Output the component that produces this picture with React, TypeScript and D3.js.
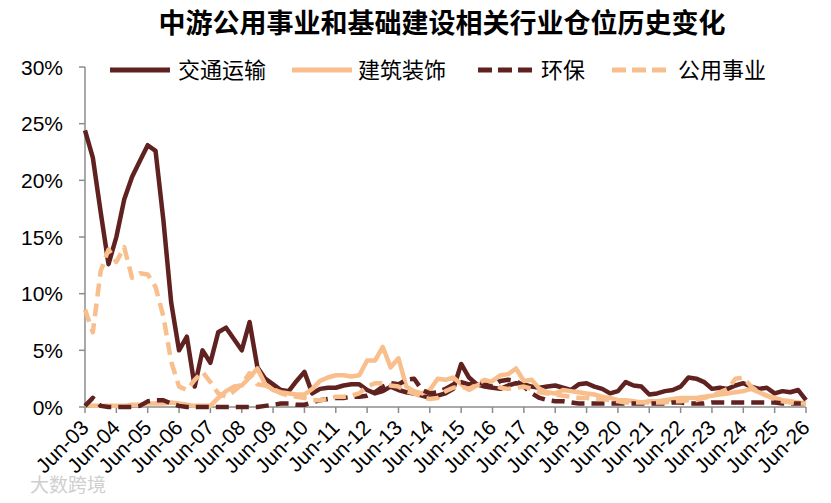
import React from 'react';
import * as d3 from 'd3';

// quarterly positions, Jun-03 .. Jun-26 (93 quarters), values in %
const tickLabels = [
    "Jun-03", "Jun-04", "Jun-05", "Jun-06", "Jun-07", "Jun-08", "Jun-09", "Jun-10",
    "Jun-11", "Jun-12", "Jun-13", "Jun-14", "Jun-15", "Jun-16", "Jun-17", "Jun-18",
    "Jun-19", "Jun-20", "Jun-21", "Jun-22", "Jun-23", "Jun-24", "Jun-25", "Jun-26",
];

const transport = [
    24.4, 22.0, 17.2, 12.6, 15.0, 18.3, 20.3, 21.7, 23.1, 22.6, 16.5, 9.2,
    5.0, 6.2, 1.8, 5.0, 3.9, 6.6, 7.0, 6.0, 5.0, 7.5, 3.5, 2.5,
    2.0, 1.5, 1.4, 2.3, 3.1, 1.2, 1.6, 1.7, 1.7, 1.9, 2.0, 2.0,
    1.5, 1.2, 1.4, 1.8, 1.5, 1.3, 1.2, 1.0, 0.8, 1.0, 1.2, 1.6,
    3.8, 2.6, 2.0, 1.8, 1.7, 1.6, 1.9, 2.1, 2.0, 1.8, 1.7, 1.8,
    1.9, 1.7, 1.5, 2.0, 2.1, 1.8, 1.6, 1.2, 1.4, 2.2, 1.9, 1.8,
    1.1, 1.2, 1.4, 1.5, 1.8, 2.6, 2.5, 2.2, 1.6, 1.7, 1.6, 1.9,
    2.1, 1.8, 1.6, 1.7, 1.2, 1.4, 1.3, 1.5, 0.6,
];

const construction = [
    0.2, 0.1, 0.1, 0.1, 0.1, 0.1, 0.2, 0.2, 0.3, 0.3, 0.3, 0.4,
    0.3, 0.2, 0.1, 0.1, 0.1, 0.8, 1.4, 1.8, 1.9, 2.6, 3.4, 2.0,
    1.5, 1.3, 1.2, 1.1, 1.1, 1.6, 2.3, 2.6, 2.8, 2.8, 2.7, 2.8,
    4.1, 4.1, 5.3, 3.5, 4.3, 1.8, 1.4, 1.2, 1.5, 2.5, 2.4, 2.6,
    2.0, 1.5, 1.9, 2.2, 2.3, 2.8, 2.9, 3.4, 2.3, 2.4, 1.6, 1.3,
    1.2, 1.5, 1.4, 1.3, 1.2, 1.1, 0.9, 0.8, 0.6, 0.6, 0.5, 0.4,
    0.5, 0.5, 0.6, 0.7, 0.8, 0.8, 0.8, 0.9, 1.0, 1.1, 1.2, 1.3,
    1.4, 1.6, 1.3, 1.0, 0.8, 0.6, 0.5, 0.4, 0.3,
];

const environment = [
    0.1, 0.8, 0.1, 0.0, 0.0, 0.0, 0.0, 0.1, 0.5, 0.6, 0.6, 0.3,
    0.1, 0.0, 0.0, 0.0, 0.0, 0.0, 0.0, 0.0, 0.0, 0.0, 0.0, 0.1,
    0.2, 0.3, 0.3, 0.2, 0.2, 0.4, 0.6, 0.7, 0.8, 0.8, 0.9, 0.9,
    1.0, 1.3, 1.8, 2.1, 2.0, 2.4, 2.5, 1.5, 1.2, 1.3, 1.6, 2.0,
    2.2, 2.0, 2.2, 2.0, 1.8, 2.3, 2.4, 2.3, 1.8, 1.2, 0.8, 0.6,
    0.5, 0.5, 0.4, 0.3, 0.3, 0.3, 0.3, 0.3, 0.3, 0.3, 0.3, 0.3,
    0.3, 0.3, 0.3, 0.4, 0.4, 0.3, 0.3, 0.3, 0.4, 0.4, 0.4, 0.4,
    0.4, 0.4, 0.4, 0.4, 0.4, 0.3, 0.3, 0.3, 0.3,
];

const utilities = [
    8.6, 6.6, 12.0, 13.9, 12.8, 14.1, 11.4, 11.8, 11.7, 10.6, 8.0, 4.0,
    1.8, 1.5, 2.4, 3.1, 2.2, 1.2, 0.9, 1.4, 2.0, 3.0, 2.0, 1.9,
    1.6, 1.2, 1.0, 0.9, 0.8, 0.6, 0.6, 0.7, 0.9, 0.9, 1.0, 1.2,
    1.8, 2.1, 2.1, 1.9, 1.8, 1.4, 1.2, 0.9, 0.7, 0.8, 1.4, 1.7,
    1.8, 1.6, 2.0, 2.4, 2.2, 1.7, 1.6, 1.7, 1.8, 1.6, 1.3, 1.2,
    1.1, 1.0, 0.9, 0.8, 0.8, 0.7, 0.7, 0.6, 0.5, 0.4, 0.4, 0.4,
    0.4, 0.4, 0.4, 0.5, 0.5, 0.6, 0.6, 0.8, 1.0, 1.3, 1.6, 2.5,
    2.6, 1.8, 1.3, 1.0, 0.7, 0.5, 0.4, 0.3, 0.3,
];

const yTicks = [0, 5, 10, 15, 20, 25, 30];

const DARK = "#5F2220";
const LIGHT = "#F8BF8D";

const series = [
    { name: "交通运输", values: transport, color: DARK, dash: "none" },
    { name: "建筑装饰", values: construction, color: LIGHT, dash: "none" },
    { name: "环保", values: environment, color: DARK, dash: "13,7" },
    { name: "公用事业", values: utilities, color: LIGHT, dash: "13,7" },
];

const width = 831;
const height = 503;
const margin = { left: 85, right: 25, top: 67, bottom: 96 };
const font = "Arial, 'Liberation Sans', 'Noto Sans CJK SC', sans-serif";
const cjk = "'Noto Sans CJK SC', 'Microsoft YaHei', sans-serif";

const App: React.FC = () => {
    const x = d3.scaleLinear()
        .domain([0, transport.length - 1])
        .range([margin.left, width - margin.right]);
    const y = d3.scaleLinear()
        .domain([0, 30])
        .range([height - margin.bottom, margin.top]);

    const line = d3.line<number>()
        .x((_, i) => x(i))
        .y(d => y(d));

    const legendItems = [
        { lx: 110, tx: 178 },
        { lx: 292, tx: 358 },
        { lx: 478, tx: 541 },
        { lx: 612, tx: 678 },
    ];

    return (
        <div style={{ position: "fixed", left: 0, top: 0 }}>
            <svg width={width} height={height} style={{ display: "block", background: "#fff" }}>
                <text x={442} y={33} textAnchor="middle" fontFamily={cjk} fontWeight="bold"
                    fontSize={27} fill="#000">中游公用事业和基础建设相关行业仓位历史变化</text>

                {/* y axis */}
                <line x1={x(0)} x2={x(0)} y1={y(0)} y2={y(30)} stroke="#8c8c8c" strokeWidth={1.5} />
                {yTicks.map(t => (
                    <g key={t}>
                        <line x1={x(0) - 6} x2={x(0)} y1={y(t)} y2={y(t)} stroke="#8c8c8c" strokeWidth={1.5} />
                        <text x={63} y={y(t)} dy="0.36em" textAnchor="end" fontFamily={font}
                            fontSize={21} fill="#000">{t}%</text>
                    </g>
                ))}

                {/* x axis */}
                <line x1={x(0)} x2={x(transport.length - 1)} y1={y(0)} y2={y(0)} stroke="#8c8c8c" strokeWidth={1.5} />
                {tickLabels.map((lab, k) => {
                    const tx = x(k * 4);
                    return (
                        <g key={lab}>
                            <line x1={tx} x2={tx} y1={y(0)} y2={y(0) + 6} stroke="#8c8c8c" strokeWidth={1.5} />
                            <text transform={`translate(${tx + 5},${y(0) + 22}) rotate(-45)`} textAnchor="end"
                                fontFamily={font} fontSize={21} fill="#000">{lab}</text>
                        </g>
                    );
                })}

                {/* series */}
                {series.map(s => (
                    <path key={s.name} d={line(s.values) || ""} fill="none" stroke={s.color}
                        strokeWidth={4.5} strokeDasharray={s.dash} strokeLinejoin="round" />
                ))}

                {/* legend */}
                {series.map((s, i) => (
                    <g key={s.name}>
                        <line x1={legendItems[i].lx} x2={legendItems[i].lx + 60} y1={70} y2={70}
                            stroke={s.color} strokeWidth={5} strokeDasharray={s.dash === "none" ? "none" : "14,6"} />
                        <text x={legendItems[i].tx} y={70} dy="0.36em" fontFamily={cjk} fontSize={22}
                            fill="#000">{s.name}</text>
                    </g>
                ))}

                <text x={30} y={492} fontFamily={cjk} fontSize={19} fill="#cfcfcf">大数跨境</text>
            </svg>
        </div>
    );
};

export default App;
